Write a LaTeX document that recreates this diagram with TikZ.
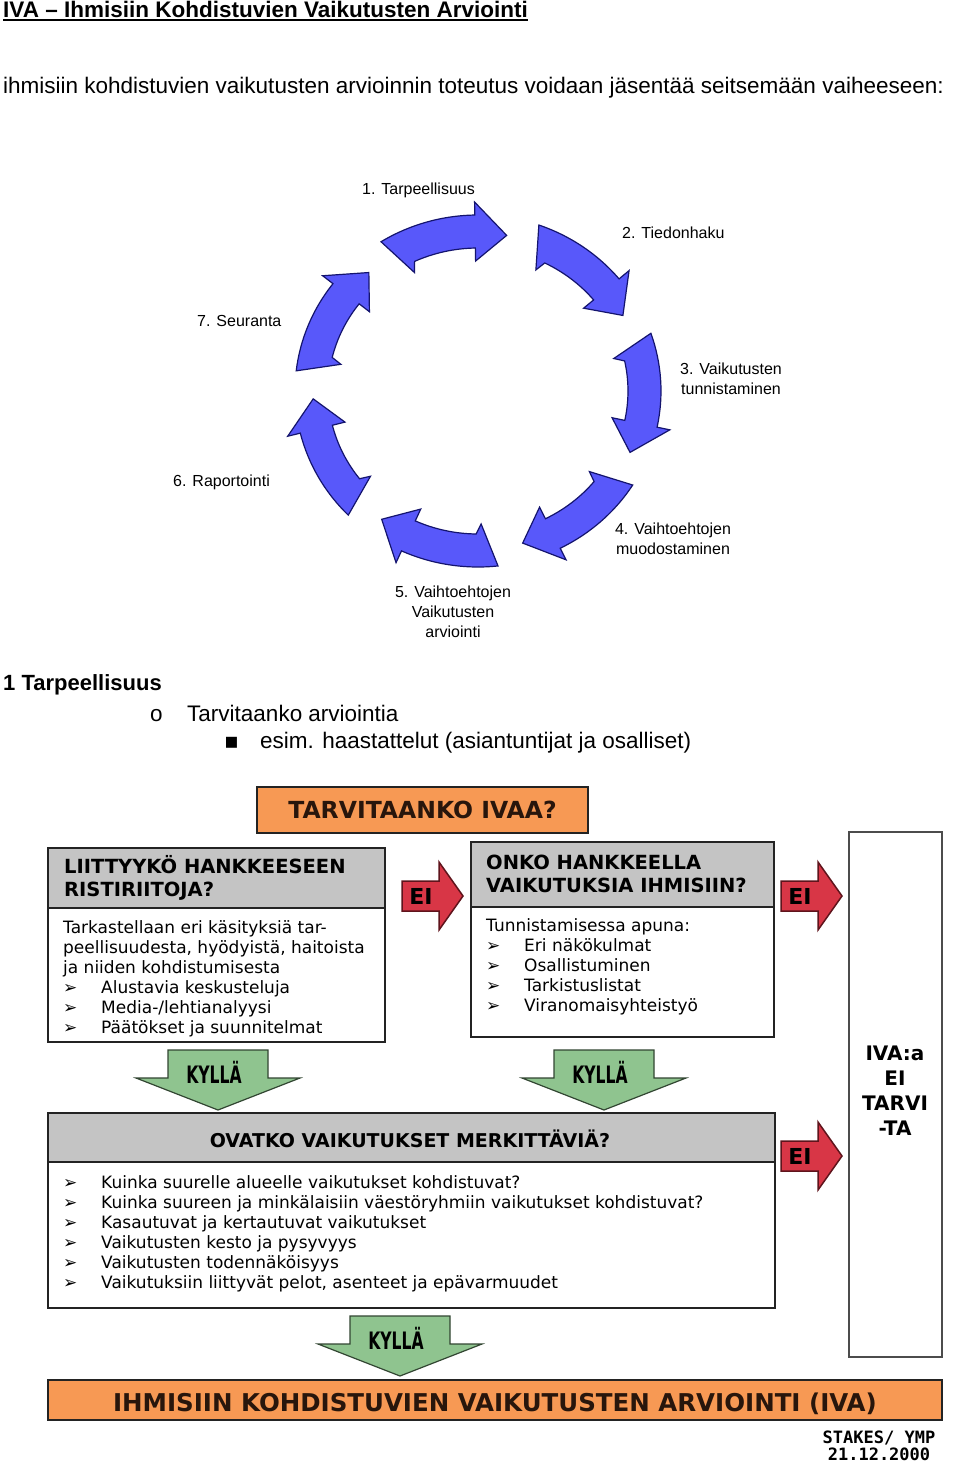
\documentclass[tikz,border=0pt]{standalone}
\usepackage{fontspec}
\usepackage{graphicx}
\setmainfont{Liberation Sans}
\newfontfamily\vfont{DejaVu Sans}
\newfontfamily\kfont[FakeStretch=0.65]{DejaVu Sans}
\newfontfamily\mfont{DejaVu Sans Mono}

\definecolor{cycleblue}{RGB}{88,88,250}
\definecolor{cycleline}{RGB}{20,20,110}
\definecolor{ivaorange}{RGB}{247,153,84}
\definecolor{headgray}{RGB}{196,196,196}
\definecolor{kyllagreen}{RGB}{143,196,143}
\definecolor{kyllaline}{RGB}{50,70,50}
\definecolor{eired}{RGB}{216,54,70}
\definecolor{eiline}{RGB}{95,20,28}
\definecolor{boxline}{RGB}{35,35,35}

\newcommand{\itm}{\makebox[38pt][l]{➢}}

\tikzset{
  lbl/.style={inner sep=0, font=\fontsize{16}{20}\selectfont},
  headtext/.style={inner sep=0, align=left, anchor=base west, font=\vfont\bfseries\fontsize{19.5}{23}\selectfont},
  bodytext/.style={inner sep=0, align=left, anchor=base west, font=\vfont\fontsize{17}{20}\selectfont},
  framebox/.style={draw=boxline, line width=1.8pt},
  orangebar/.style={fill=ivaorange, draw=boxline, line width=1.8pt},
  cyclearrow/.style={fill=cycleblue, draw=cycleline, line width=1.2pt},
  eiarrow/.style={fill=eired, draw=eiline, line width=1.5pt},
  kyllaarrow/.style={fill=kyllagreen, draw=kyllaline, line width=1.2pt},
}

\begin{document}
\begin{tikzpicture}[x=1pt, y=-1pt]

	\fill[white] (0,0) rectangle (960,1468);
	\useasboundingbox (0,0) rectangle (960,1468);

	% heading
	\node[inner sep=0, anchor=base west, font=\bfseries\fontsize{22.5}{26}\selectfont] (title) at (3,17) {IVA – Ihmisiin Kohdistuvien Vaikutusten Arviointi};
	\draw[line width=1.8pt] ([yshift=-3pt]title.base west) -- ([yshift=-3pt]title.base east);
	\node[inner sep=0, anchor=base west, font=\fontsize{22.5}{26}\selectfont] (intro) at (3,93) {ihmisiin kohdistuvien vaikutusten arvioinnin toteutus voidaan jäsentää seitsemään vaiheeseen:};

	% cycle
	\begin{scope}[shift={(478,391)}, yscale=-1]
	\foreach \i in {0,...,6}{
		\pgfmathsetmacro{\atail}{122-51.43*\i}
		\pgfmathsetmacro{\atip}{\atail-42}
		\pgfmathsetmacro{\aneck}{\atip+11}
		\pgfmathsetmacro{\aback}{\atail-7}
		\pgfmathsetmacro{\abarb}{\atail-5}
		\filldraw[cyclearrow] (\atail:183 and 176) arc[start angle=\atail, end angle=\aneck, x radius=183, y radius=176]
			-- (\aneck:196 and 189) -- (\atip:165 and 158) -- (\aneck:137 and 130) -- (\aneck:150 and 143)
			arc[start angle=\aneck, end angle=\aback, x radius=150, y radius=143] -- (\abarb:140 and 133) -- cycle;
	}
	\end{scope}

	% cycle labels
	\node[lbl, anchor=base west] (s1) at (362,194) {1. Tarpeellisuus};
	\node[lbl, anchor=base west] (s2) at (622,238) {2. Tiedonhaku};
	\node[lbl, anchor=base, align=center] (s3) at (731,394) {3. Vaikutusten\\tunnistaminen};
	\node[lbl, anchor=base, align=center] (s4) at (673,554) {4. Vaihtoehtojen\\muodostaminen};
	\node[lbl, anchor=base, align=center] (s5) at (453,637) {5. Vaihtoehtojen\\Vaikutusten\\arviointi};
	\node[lbl, anchor=base west] (s6) at (173,486) {6. Raportointi};
	\node[lbl, anchor=base west] (s7) at (197,326) {7. Seuranta};

	% list
	\node[inner sep=0, anchor=base west, font=\bfseries\fontsize{22}{26}\selectfont] (phase) at (3,690) {1 Tarpeellisuus};
	\node[inner sep=0, anchor=base west, font=\fontsize{22.5}{26}\selectfont] (dot1) at (150,721) {o};
	\node[inner sep=0, anchor=base west, font=\fontsize{22.5}{26}\selectfont] (need1) at (187,721) {Tarvitaanko arviointia};
	\node[inner sep=0, anchor=base west, font=\vfont\fontsize{22}{26}\selectfont] (dot2) at (224,748) {▪};
	\node[inner sep=0, anchor=base west, font=\fontsize{22.5}{26}\selectfont] (need2) at (260,748) {esim. haastattelut (asiantuntijat ja osalliset)};

	% tarvitaanko
	\filldraw[orangebar] (257,787) rectangle (588,833);
	\node[inner sep=0, font=\vfont\bfseries\fontsize{23.5}{28}\selectfont, text={rgb,255:red,40;green,22;blue,12}] (ask) at (422.5,810) {TARVITAANKO IVAA?};

	% box 1
	\fill[headgray] (48,848) rectangle (385,908);
	\draw[framebox] (48,908) -- (385,908);
	\draw[framebox] (48,848) rectangle (385,1042);
	\node[headtext] (q1) at (64,896) {LIITTYYKÖ HANKKEESEEN\\RISTIRIITOJA?};
	\node[bodytext] (q1body) at (63,1033) {Tarkastellaan eri käsityksiä tar-\\peellisuudesta, hyödyistä, haitoista\\ja niiden kohdistumisesta\\\itm Alustavia keskusteluja\\\itm Media-/lehtianalyysi\\\itm Päätökset ja suunnitelmat};

	% box 2
	\fill[headgray] (471,842) rectangle (774,907);
	\draw[framebox] (471,907) -- (774,907);
	\draw[framebox] (471,842) rectangle (774,1037);
	\node[headtext] (q2) at (486,892) {ONKO HANKKEELLA\\VAIKUTUKSIA IHMISIIN?};
	\node[bodytext] (q2body) at (486,1011) {Tunnistamisessa apuna:\\\itm Eri näkökulmat\\\itm Osallistuminen\\\itm Tarkistuslistat\\\itm Viranomaisyhteistyö};

	% box 3
	\fill[headgray] (48,1113) rectangle (775,1162);
	\draw[framebox] (48,1162) -- (775,1162);
	\draw[framebox] (48,1113) rectangle (775,1308);
	\node[inner sep=0, anchor=base, font=\vfont\bfseries\fontsize{19}{23}\selectfont] (q3) at (410,1147) {OVATKO VAIKUTUKSET MERKITTÄVIÄ?};
	\node[bodytext] (q3body) at (63,1288) {\itm Kuinka suurelle alueelle vaikutukset kohdistuvat?\\\itm Kuinka suureen ja minkälaisiin väestöryhmiin vaikutukset kohdistuvat?\\\itm Kasautuvat ja kertautuvat vaikutukset\\\itm Vaikutusten kesto ja pysyvyys\\\itm Vaikutusten todennäköisyys\\\itm Vaikutuksiin liittyvät pelot, asenteet ja epävarmuudet};

	% no iva
	\draw[line width=1.5pt, draw=gray!60!black] (849,832) rectangle (942,1357);
	\node[inner sep=0, anchor=base, align=center, font=\vfont\bfseries\fontsize{20}{25}\selectfont] (noiva) at (895,1135) {IVA:a\\EI\\TARVI\\-TA};

	% ei arrows
	\foreach \x/\y [count=\k] in {402/896, 781/896, 781/1156}{
		\filldraw[eiarrow] (\x,\y-15) -- (\x+37,\y-15) -- (\x+37,\y-34) -- (\x+61,\y) -- (\x+37,\y+34) -- (\x+37,\y+15) -- (\x,\y+15) -- cycle;
		\node[inner sep=0, font=\vfont\bfseries\fontsize{22}{22}\selectfont] (ei\k) at (\x+19,\y) {EI};
	}

	% kylla arrows
	\foreach \x/\y [count=\k] in {218/1050, 604/1050, 400/1316}{
		\filldraw[kyllaarrow] (\x-50,\y) -- (\x+50,\y) -- (\x+50,\y+28) -- (\x+82,\y+28) -- (\x,\y+60) -- (\x-82,\y+28) -- (\x-50,\y+28) -- cycle;
		\node[inner sep=0, font=\kfont\bfseries\fontsize{24}{24}\selectfont] (kylla\k) at (\x-4,\y+22) {KYLLÄ};
	}

	% result
	\filldraw[orangebar] (48,1380) rectangle (942,1420);
	\node[inner sep=0, anchor=base, font=\vfont\bfseries\fontsize{24.5}{28}\selectfont, text={rgb,255:red,40;green,22;blue,12}] (iva) at (495,1411) {IHMISIIN KOHDISTUVIEN VAIKUTUSTEN ARVIOINTI (IVA)};

	% stamp
	\node[inner sep=0, anchor=base, align=center, font=\mfont\bfseries\fontsize{17}{17}\selectfont] (stamp) at (879,1460) {STAKES/ YMP\\21.12.2000};

\end{tikzpicture}
\end{document}
